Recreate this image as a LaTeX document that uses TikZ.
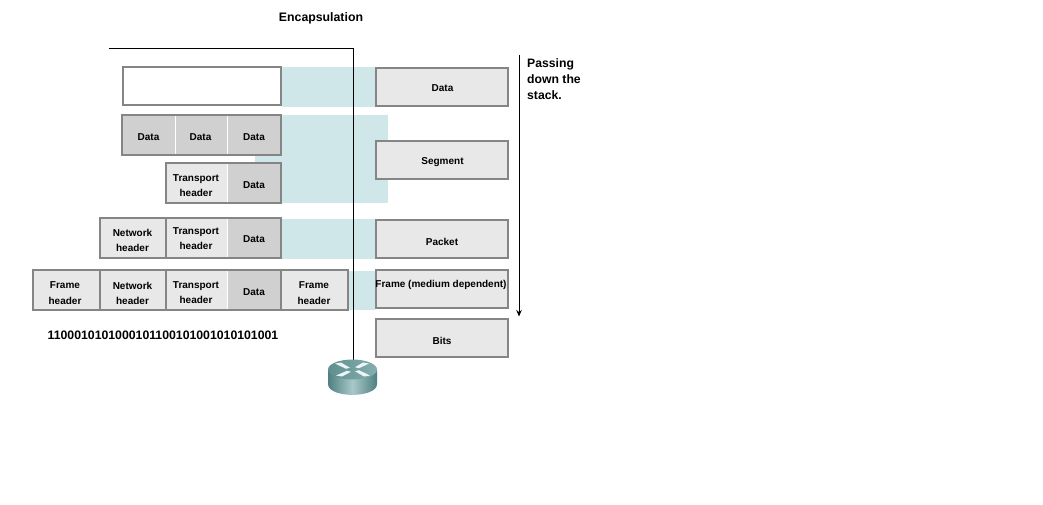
\documentclass[tikz,border=0pt]{standalone}
\usetikzlibrary{arrows.meta}
\usepackage{fontspec}
\setmainfont{Liberation Sans}
\definecolor{tealbg}{HTML}{CFE7E8}
\definecolor{celllight}{HTML}{E8E8E8}
\definecolor{celldark}{HTML}{D0D0D0}
\definecolor{edgegray}{HTML}{858585}
\definecolor{routerdark}{HTML}{4F7F80}
\definecolor{routermid}{HTML}{A9C8C8}
\definecolor{routertopa}{HTML}{5F8F90}
\definecolor{routertopb}{HTML}{86AEAF}
\newcommand{\cellat}[6]{%
  \node[cellbox,fill=#6,minimum width={#3-#1},minimum height={#4-#2}] (#5) at ({(#1+#3)/2},{(#2+#4)/2}) {};}
\newcommand{\stackat}[3]{%
  \node[stackedge] (#1edge) at (#2,#3) {};
  \node[stackbox] (#1) at (#1edge.center) {};}
\tikzset{
  cellbox/.style={inner sep=0pt,outer sep=0pt,draw=none},
  celltext/.style={font=\bfseries\fontsize{10}{15.5}\selectfont,align=center,inner sep=0pt,text=black},
  outline/.style={draw=edgegray,line width=1.3pt},
  whitesep/.style={draw=white,line width=1pt},
  darksep/.style={draw=edgegray,line width=1.1pt},
  stackedge/.style={inner sep=0pt,outer sep=0pt,fill=edgegray,draw=none,minimum width=134pt,minimum height=40pt},
  stackbox/.style={inner sep=0pt,outer sep=0pt,fill=celllight,draw=none,minimum width=130.4pt,minimum height=36.4pt},
  heavy/.style={line width=0.9pt,draw=black},
  band/.style={fill=tealbg,draw=none},
  markwhite/.style={fill=white!92!teal},
}
\begin{document}
\begin{tikzpicture}[x=1pt,y=-1pt]
\useasboundingbox (0,0) rectangle (1043,504);
% teal bands
\fill[band] (282,67) rectangle (375,107);
\fill[band] (255,115) rectangle (387.5,203);
\fill[band] (282,219) rectangle (375,258.5);
\fill[band] (348,271) rectangle (375,310);
% title
\node[font=\bfseries\fontsize{12.3}{14}\selectfont,inner sep=0pt] (title) at (321,18.5) {Encapsulation};
% white box
\node[cellbox,fill=edgegray,minimum width=160pt,minimum height=40pt] (emptyedge) at (202,86) {};
\node[cellbox,fill=white,minimum width=156.4pt,minimum height=36.4pt] (empty) at (emptyedge.center) {};
% Data Data Data
\cellat{122}{115}{175.5}{155}{d1}{celldark}
\cellat{175.5}{115}{227.5}{155}{d2}{celldark}
\cellat{227.5}{115}{281}{155}{d3}{celldark}
\draw[whitesep] (d1.north east) -- (d1.south east);
\draw[whitesep] (d2.north east) -- (d2.south east);
\draw[outline] (d1.north west) rectangle (d3.south east);
\node[celltext] (td1) at (148.5,137) {Data};
\node[celltext] (td2) at (200.5,137) {Data};
\node[celltext] (td3) at (254,137) {Data};
% Segment row
\cellat{166}{163}{227.5}{203}{s1}{celllight}
\cellat{227.5}{163}{281}{203}{s2}{celldark}
\draw[whitesep] (s1.north east) -- (s1.south east);
\draw[outline] (s1.north west) rectangle (s2.south east);
\node[celltext] (ts1) at (196,185.5) {Transport\\header};
\node[celltext] (ts2) at (254,185.5) {Data};
% Packet row
\cellat{100}{218}{166}{258}{p1}{celllight}
\cellat{166}{218}{227.5}{258}{p2}{celllight}
\cellat{227.5}{218}{281}{258}{p3}{celldark}
\draw[whitesep] (p2.north east) -- (p2.south east);
\draw[darksep] (p1.north east) -- (p1.south east);
\draw[outline] (p1.north west) rectangle (p3.south east);
\node[celltext] (tp1) at (132.5,240.3) {Network\\header};
\node[celltext] (tp2) at (196,238.5) {Transport\\header};
\node[celltext] (tp3) at (254,239.5) {Data};
% Frame row
\cellat{33}{270}{100}{310}{f1}{celllight}
\cellat{100}{270}{166}{310}{f2}{celllight}
\cellat{166}{270}{227.5}{310}{f3}{celllight}
\cellat{227.5}{270}{281}{310}{f4}{celldark}
\cellat{281}{270}{348}{310}{f5}{celllight}
\draw[whitesep] (f3.north east) -- (f3.south east);
\draw[darksep] (f1.north east) -- (f1.south east);
\draw[darksep] (f2.north east) -- (f2.south east);
\draw[darksep] (f4.north east) -- (f4.south east);
\draw[outline] (f1.north west) rectangle (f5.south east);
\node[celltext] (tf1) at (65,293.3) {Frame\\header};
\node[celltext] (tf2) at (132.5,293.3) {Network\\header};
\node[celltext] (tf3) at (196,292.5) {Transport\\header};
\node[celltext] (tf4) at (254,292.5) {Data};
\node[celltext] (tf5) at (314,293.3) {Frame\\header};
% bits
\node[font=\bfseries\fontsize{12.27}{14}\selectfont,inner sep=0pt] (bitstring) at (163,335.5) {1100010101000101100101001010101001};
% connectors
\coordinate (encStart) at (109,48);
\coordinate (encCorner) at (353,48);
\coordinate (routerTop) at (353,361);
\draw[heavy] (encStart) -- (encCorner) -- (routerTop);
\coordinate (passStart) at (519,55);
\coordinate (passEnd) at (519,316.5);
\draw[heavy,-{Stealth[length=6.5pt,width=5.5pt]}] (passStart) -- (passEnd);
% router
\shade[left color=routerdark,right color=routerdark,middle color=routermid]
  (328,369.5) -- (328,384) .. controls (328,398.5) and (377,398.5) .. (377,384) -- (377,369.5) -- cycle;
\shade[left color=routertopa,right color=routertopb] (352.5,369.5) ellipse[x radius=24.5,y radius=10];
\fill[markwhite] (335,363.5) -- (341,362.5) -- (350,367.8) -- (346,368.8) -- cycle;
\fill[markwhite] (370,375.5) -- (364,376.5) -- (355,371.2) -- (359,370.2) -- cycle;
\fill[markwhite] (369,363.5) -- (363,362.5) -- (355,367.2) -- (359,368.2) -- cycle;
\fill[markwhite] (336,375.5) -- (342,376.5) -- (351,371.8) -- (347,370.8) -- cycle;
% stack boxes
\stackat{sData}{442}{87}
\stackat{sSegment}{442}{160}
\stackat{sPacket}{442}{239}
\stackat{sFrame}{442}{289}
\stackat{sBits}{442}{338}
\node[celltext] (tsD) at (442.5,88) {Data};
\node[celltext] (tsS) at (442.5,162) {Segment};
\node[celltext] (tsP) at (442,241.5) {Packet};
\node[celltext] (tsF) at (441,284.5) {Frame (medium dependent)};
\node[celltext] (tsB) at (442,340.5) {Bits};
% passing
\node[font=\bfseries\fontsize{12.2}{16}\selectfont,align=left,anchor=north west,inner sep=0pt] (passing) at (527,58.5) {Passing\\down the\\stack.};
\end{tikzpicture}
\end{document}
